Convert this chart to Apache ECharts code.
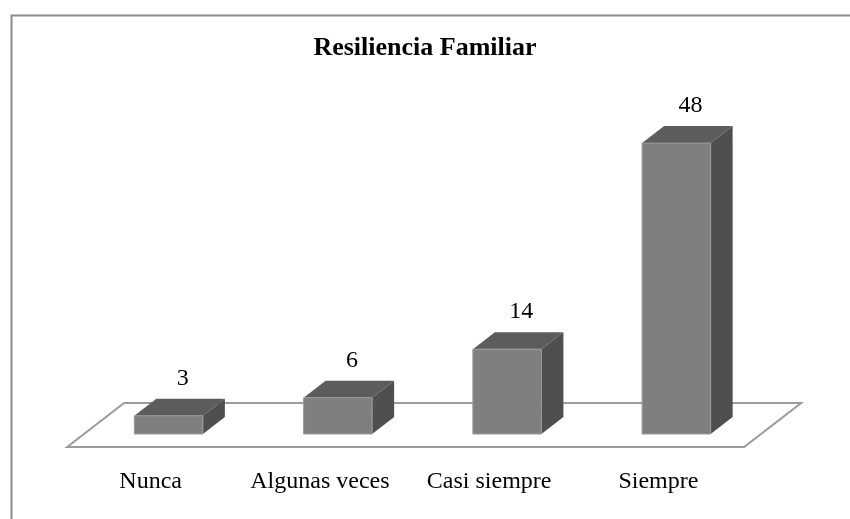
<!DOCTYPE html>
<html>
<head>
<meta charset="utf-8">
<title>Resiliencia Familiar</title>
<script src="https://cdn.jsdelivr.net/npm/echarts@6/dist/echarts.min.js"></script>
<style>
  html, body { margin: 0; padding: 0; background: #fff; }
  #chart { width: 850px; height: 519px; }
</style>
</head>
<body>
<div id="chart"></div>
<script>
var categories = ['Nunca', 'Algunas veces', 'Casi siempre', 'Siempre'];
var values = [3, 6, 14, 48];

var depthX = 22, depthY = 17;   // fondo de la barra 3D
var fontFam = '"Liberation Serif", "Times New Roman", serif';

var chartDom = echarts.init(document.getElementById('chart'));

// dibuja una barra 3D (frente, tapa, lado) y su etiqueta
function renderBar(params, api) {
    var i = api.value(0);
    var v = api.value(1);
    var base = api.coord([i, 0]);
    var top = api.coord([i, v]);
    var bw = api.size([1, 0])[0] * 0.405;
    var x0 = base[0] - bw / 2, x1 = base[0] + bw / 2;
    var y0 = top[1], y1 = base[1];
    return {
        type: 'group',
        children: [
            {
                type: 'polygon',
                shape: { points: [[x1, y0], [x1 + depthX, y0 - depthY], [x1 + depthX, y1 - depthY], [x1, y1]] },
                style: { fill: '#4f4f4f' }
            },
            {
                type: 'polygon',
                shape: { points: [[x0, y0], [x0 + depthX, y0 - depthY], [x1 + depthX, y0 - depthY], [x1, y0]] },
                style: { fill: '#5c5c5c' }
            },
            {
                type: 'rect',
                shape: { x: x0, y: y0, width: bw, height: y1 - y0 },
                style: { fill: '#7f7f7f', stroke: '#9a9a9a', lineWidth: 1 }
            },
            {
                type: 'text',
                style: {
                    text: String(v),
                    x: base[0] + 14,
                    y: y0 - depthY - 8,
                    align: 'center',
                    verticalAlign: 'bottom',
                    fill: '#000',
                    font: '24px ' + fontFam
                }
            }
        ]
    };
}

// piso en perspectiva bajo las barras
function renderFloor(params, api) {
    var cs = params.coordSys;
    var baseY = cs.y + cs.height;
    var l = cs.x, r = cs.x + cs.width;
    var front = 13, back = 31, k = depthX / depthY;
    return {
        type: 'polygon',
        shape: {
            points: [
                [l - front * k, baseY + front],
                [r - front * k, baseY + front],
                [r + back * k, baseY - back],
                [l + back * k, baseY - back]
            ]
        },
        style: { fill: '#fff', stroke: '#9b9b9b', lineWidth: 2 }
    };
}

chartDom.setOption({
    animation: false,
    backgroundColor: '#fff',
    title: {
        text: 'Resiliencia Familiar',
        left: 'center',
        top: 35,
        padding: 0,
        textStyle: { fontFamily: fontFam, fontSize: 26, fontWeight: 'bold', color: '#000' }
    },
    graphic: [{
        type: 'rect',
        left: 9,
        top: 13,
        shape: { width: 900, height: 600 },
        style: { fill: 'none', stroke: '#8a8a8a', lineWidth: 2 },
        silent: true
    }],
    grid: { left: 84, right: 89, top: 131, bottom: 85 },
    xAxis: {
        type: 'category',
        data: categories,
        axisLine: { show: false },
        axisTick: { show: false },
        axisLabel: {
            interval: 0,
            hideOverlap: false,
            margin: 36,
            padding: [0, 36, 0, 0],
            color: '#000',
            fontFamily: fontFam,
            fontSize: 24
        }
    },
    yAxis: {
        type: 'value',
        min: 0,
        max: 50,
        show: false,
        splitLine: { show: false }
    },
    series: [
        {
            type: 'custom',
            renderItem: renderFloor,
            data: [[0, 0]],
            z: 1,
            silent: true
        },
        {
            type: 'custom',
            renderItem: renderBar,
            data: values.map(function (v, i) { return [i, v]; }),
            z: 2
        }
    ]
});
</script>
</body>
</html>
